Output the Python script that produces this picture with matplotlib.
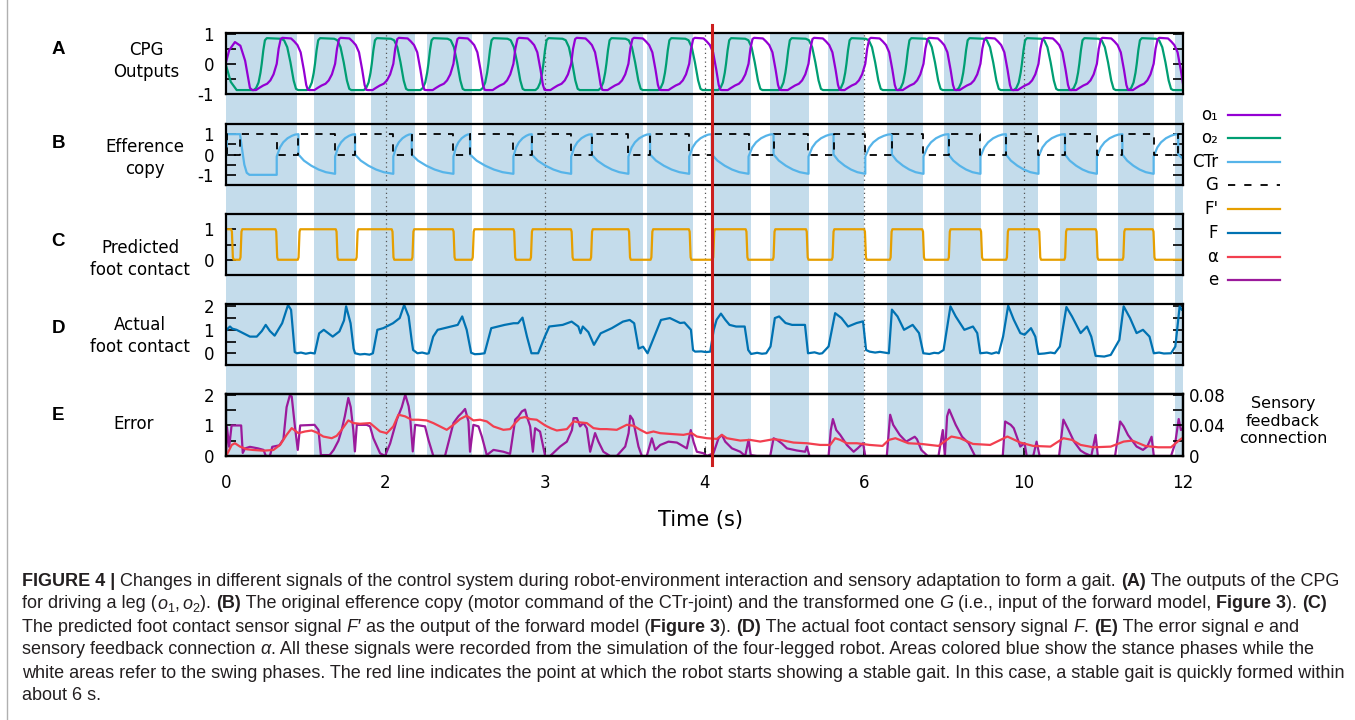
import matplotlib
matplotlib.use("Agg")
from matplotlib import pyplot as plt
from matplotlib.lines import Line2D

plt.rcParams["font.family"] = ["DejaVu Sans"]
plt.rcParams["mathtext.fontset"] = "custom"
plt.rcParams["mathtext.rm"] = "Liberation Sans"
plt.rcParams["mathtext.it"] = "Liberation Sans:italic"
plt.rcParams["mathtext.bf"] = "Liberation Sans:bold"

# --------------- datos

# eje x con posiciones iguales y etiquetas de tiempo
x_ticks = [0, 1, 2, 3, 4, 5, 6]
x_labels = ["0", "2", "3", "4", "6", "10", "12"]

# fases de apoyo (zonas azules)
apoyo_inicio = [0.000, 0.554, 0.909, 1.262, 1.614, 2.638, 3.046, 3.412, 3.777, 4.144, 4.499, 4.869, 5.231, 5.590, 5.952]
apoyo_fin = [0.443, 0.809, 1.185, 1.541, 2.617, 2.931, 3.291, 3.654, 4.001, 4.367, 4.733, 5.094, 5.461, 5.816, 6.000]

lineas_punteadas = [1, 2, 3, 4, 5]
marcha_estable = 3.046

# salidas del CPG: cruces por cero de subida de cada ciclo
o1_cruces = [0.318, 0.684, 1.049, 1.426, 1.802, 2.164, 2.523, 2.904, 3.276, 3.652, 4.008, 4.373, 4.730, 5.094, 5.460, 5.816]
o2_cruces = [0.224, 0.558, 0.914, 1.269, 1.645, 1.990, 2.385, 2.760, 3.135, 3.515, 3.890, 4.265, 4.630, 4.990, 5.350, 5.710]

# forma de un ciclo (desfase respecto al cruce, valor)
o1_forma = [(-0.130, -0.87), (-0.110, -0.80), (-0.085, -0.72), (-0.060, -0.66), (-0.040, -0.55), (-0.020, -0.35),
            (0.000, 0.00), (0.012, 0.50), (0.025, 0.82), (0.035, 0.86), (0.090, 0.84), (0.110, 0.74),
            (0.130, 0.62), (0.150, 0.38), (0.170, -0.20), (0.185, -0.70), (0.195, -0.86), (0.205, -0.87)]
o2_forma = [(-0.050, -0.87), (-0.035, -0.80), (-0.020, -0.62), (-0.008, -0.30), (0.000, 0.00), (0.010, 0.45),
            (0.020, 0.78), (0.032, 0.85), (0.120, 0.83), (0.140, 0.78), (0.160, 0.55), (0.180, 0.05),
            (0.200, -0.55), (0.215, -0.83), (0.228, -0.87)]
o1_arranque = [(0.000, 0.05), (0.020, 0.45), (0.056, 0.72), (0.090, 0.60), (0.120, 0.10), (0.150, -0.80), (0.165, -0.87)]
o2_arranque = [(0.000, -0.05), (0.030, -0.60), (0.067, -0.87), (0.140, -0.87)]

# copia eferente CTr: saltos hacia arriba y caidas
ctr_saltos = [0.318, 0.684, 1.049, 1.426, 1.802, 2.164, 2.523, 2.904, 3.276, 3.652, 4.008, 4.373, 4.730, 5.094, 5.460, 5.816]
ctr_caidas = [0.454, 0.809, 1.164, 1.530, 1.917, 2.293, 2.659, 3.046, 3.433, 3.809, 4.175, 4.530, 4.890, 5.260, 5.620, 5.970]
ctr_arranque = [(0.000, 0.0), (0.004, 0.0), (0.006, 1.0), (0.088, 1.0), (0.100, 0.3), (0.115, -0.5),
                (0.130, -0.9), (0.147, -1.0), (0.318, -1.0)]
ctr_subida = [(0.00, -0.10), (0.15, 0.35), (0.30, 0.60), (0.50, 0.80), (0.70, 0.92), (0.85, 0.98), (1.00, 1.00)]
ctr_bajada = [(0.00, 0.00), (0.15, -0.30), (0.35, -0.55), (0.55, -0.74), (0.75, -0.87), (1.00, -0.95)]

# G transformada (1 -> 0 en bajadas, 0 -> 1 en subidas)
g_bajadas = [0.004, 0.318, 0.684, 1.049, 1.426, 1.802, 2.164, 2.523, 2.904, 3.276, 3.652, 4.008, 4.373, 4.730, 5.094, 5.460, 5.816]
g_subidas = [0.088, 0.454, 0.809, 1.164, 1.530, 1.917, 2.293, 2.659, 3.046, 3.433, 3.809, 4.175, 4.530, 4.890, 5.260, 5.620, 5.970]

# contacto predicho F'
fp_bajadas = [0.040, 0.318, 0.696, 1.047, 1.430, 1.810, 2.170, 2.530, 2.910, 3.266, 3.644, 4.009, 4.373, 4.737, 5.102, 5.461, 5.818]
fp_subidas = [0.094, 0.458, 0.822, 1.172, 1.550, 1.915, 2.292, 2.670, 3.058, 3.436, 3.806, 4.170, 4.535, 4.899, 5.264, 5.629]
fp_borde = [(-0.008, 0.00), (-0.003, 0.08), (0.000, 0.50), (0.003, 0.92), (0.008, 1.00)]

# contacto real F
f_puntos = [
    (0.000, 0.95), (0.011, 1.05), (0.025, 1.14), (0.039, 1.05), (0.066, 1.00), (0.095, 0.90), (0.150, 0.71),
    (0.193, 0.71), (0.225, 0.95), (0.249, 1.21), (0.275, 0.95), (0.305, 0.75), (0.352, 1.28), (0.389, 2.06),
    (0.408, 1.85), (0.431, 0.05), (0.445, 0.00), (0.470, 0.03), (0.500, -0.02), (0.530, 0.02), (0.556, -0.01),
    (0.584, 0.85), (0.613, 1.00), (0.669, 0.71), (0.711, 0.93), (0.740, 1.40), (0.753, 2.00), (0.781, 1.28),
    (0.800, 0.20), (0.809, 0.00), (0.840, -0.05), (0.870, -0.03), (0.900, -0.06), (0.921, 0.00),
    (0.949, 1.00), (0.986, 1.07), (1.047, 1.28), (1.089, 1.50), (1.117, 2.06), (1.145, 1.57), (1.165, 0.50),
    (1.173, 0.14), (1.200, 0.00), (1.230, 0.03), (1.260, -0.02), (1.271, 0.00),
    (1.299, 0.71), (1.327, 1.00), (1.411, 1.14), (1.453, 1.21), (1.481, 1.57), (1.509, 1.00), (1.537, 0.02),
    (1.560, -0.04), (1.590, -0.03), (1.621, 0.00),
    (1.663, 1.07), (1.747, 1.21), (1.803, 1.28), (1.831, 1.28), (1.859, 1.52), (1.887, 0.71), (1.915, 0.00),
    (1.957, 0.00), (1.999, 0.71), (2.027, 1.14), (2.111, 1.21), (2.167, 1.35), (2.209, 1.14), (2.223, 0.85),
    (2.237, 1.14), (2.272, 0.90), (2.307, 0.36), (2.349, 0.85), (2.419, 1.07), (2.489, 1.35), (2.531, 1.42),
    (2.559, 1.28), (2.587, 0.20), (2.615, 0.28), (2.643, 0.00),
    (2.685, 0.71), (2.727, 1.42), (2.783, 1.50), (2.847, 1.29), (2.874, 1.31), (2.915, 1.00), (2.928, 0.14),
    (2.941, 0.07), (2.980, 0.08), (3.010, 0.05), (3.036, 0.07),
    (3.058, 1.00), (3.076, 1.43), (3.103, 1.69), (3.130, 1.43), (3.157, 1.21), (3.198, 1.14), (3.252, 1.14),
    (3.274, 0.14), (3.292, -0.03), (3.330, 0.02), (3.360, -0.02), (3.387, 0.00),
    (3.414, 0.29), (3.441, 1.50), (3.468, 1.57), (3.508, 1.29), (3.549, 1.21), (3.630, 1.21), (3.649, 0.00),
    (3.690, 0.04), (3.720, -0.02), (3.738, 0.00),
    (3.778, 0.29), (3.819, 1.71), (3.859, 1.50), (3.900, 1.14), (3.954, 1.29), (3.994, 1.36), (4.013, 0.14),
    (4.035, 0.07), (4.070, 0.03), (4.100, 0.06), (4.156, 0.00),
    (4.175, 1.86), (4.210, 1.57), (4.251, 1.00), (4.305, 1.21), (4.345, 0.86), (4.372, 0.00),
    (4.410, -0.03), (4.440, 0.02), (4.467, 0.00),
    (4.499, 0.14), (4.542, 2.00), (4.575, 1.57), (4.629, 1.00), (4.683, 1.14), (4.710, 0.86), (4.729, 0.00),
    (4.770, 0.03), (4.800, -0.02), (4.830, 0.04), (4.845, 0.00),
    (4.872, 0.71), (4.904, 2.03), (4.939, 1.43), (4.980, 0.86), (5.007, 0.79), (5.047, 1.07), (5.074, 0.71),
    (5.093, -0.03), (5.130, -0.01), (5.170, 0.03), (5.196, 0.00),
    (5.228, 0.29), (5.269, 1.97), (5.304, 1.57), (5.358, 0.86), (5.398, 1.14), (5.425, 0.71), (5.452, -0.11),
    (5.506, -0.14), (5.547, -0.07),
    (5.601, 0.57), (5.628, 2.00), (5.668, 1.50), (5.709, 0.86), (5.749, 1.00), (5.790, 0.71), (5.817, 0.00),
    (5.850, 0.03), (5.880, -0.01), (5.925, 0.00),
    (5.952, 0.29), (5.979, 2.00), (5.992, 1.86),
]

# error e
e_puntos = [
    (0.000, 0.00), (0.006, 0.95), (0.020, 0.30), (0.035, 1.00), (0.095, 1.00), (0.105, 0.10), (0.120, 0.25),
    (0.150, 0.30), (0.200, 0.25), (0.235, 0.20), (0.250, 0.00), (0.275, 0.00), (0.290, 0.30), (0.335, 0.35),
    (0.360, 0.55), (0.380, 1.60), (0.400, 1.98), (0.412, 1.95), (0.432, 0.97), (0.450, 0.20), (0.465, 1.00),
    (0.555, 1.02), (0.580, 0.85), (0.595, 0.03), (0.650, 0.03), (0.675, 0.20), (0.705, 0.50), (0.725, 0.85),
    (0.745, 1.30), (0.767, 1.90), (0.782, 1.60), (0.798, 0.85), (0.808, 0.15), (0.820, 1.02), (0.882, 1.02),
    (0.903, 0.97), (0.924, 0.58), (0.966, 0.09), (0.997, 0.00), (1.029, 0.41), (1.071, 1.19), (1.102, 1.60),
    (1.124, 2.01), (1.145, 1.63), (1.154, 1.30), (1.171, 0.15), (1.186, 1.02), (1.248, 0.97), (1.269, 0.53),
    (1.300, 0.00), (1.373, 0.00), (1.426, 1.08), (1.457, 1.30), (1.478, 1.41), (1.499, 1.54), (1.520, 1.13),
    (1.530, 0.14), (1.551, 1.02), (1.583, 0.97), (1.604, 0.64), (1.635, 0.03), (1.677, 0.20), (1.739, 0.14),
    (1.781, 0.07), (1.813, 1.19), (1.834, 1.30), (1.855, 1.46), (1.875, 1.52), (1.886, 1.30), (1.907, 0.97),
    (1.924, 0.14), (1.938, 0.91), (1.969, 0.80), (2.001, 0.00), (2.032, 0.00), (2.095, 0.31), (2.137, 0.47),
    (2.169, 0.85), (2.179, 1.24), (2.200, 1.24), (2.220, 0.97), (2.241, 1.08), (2.262, 0.91), (2.283, 0.14),
    (2.314, 0.75), (2.335, 0.47), (2.366, 0.14), (2.408, 0.00), (2.450, 0.00), (2.503, 0.31), (2.524, 0.75),
    (2.534, 1.32), (2.551, 1.19), (2.565, 0.85), (2.586, 0.31), (2.607, 0.00), (2.638, 0.00), (2.670, 0.58),
    (2.691, 0.20), (2.722, 0.36), (2.774, 0.47), (2.827, 0.44), (2.889, 0.25), (2.914, 0.85), (2.931, 0.47),
    (2.952, 0.14), (2.994, 0.09), (3.015, 0.00), (3.056, 0.09), (3.088, 0.58), (3.109, 0.69), (3.130, 0.47),
    (3.172, 0.25), (3.224, 0.14), (3.255, 0.00), (3.276, 0.53), (3.290, 0.03), (3.328, 0.00), (3.412, 0.00),
    (3.433, 0.58), (3.454, 0.53), (3.485, 0.41), (3.517, 0.25), (3.579, 0.18), (3.631, 0.14), (3.642, 0.31),
    (3.658, 0.00), (3.704, 0.00), (3.778, 0.00), (3.792, 0.85), (3.805, 1.21), (3.826, 0.85), (3.851, 0.69),
    (3.893, 0.36), (3.935, 0.14), (3.960, 0.25), (3.994, 0.42), (4.008, 0.00), (4.143, 0.00), (4.164, 1.35),
    (4.183, 1.02), (4.224, 0.69), (4.264, 0.47), (4.318, 0.63), (4.332, 0.55), (4.359, 0.20), (4.399, 0.00),
    (4.467, 0.00), (4.494, 0.85), (4.507, 0.00), (4.521, 1.30), (4.534, 1.52), (4.575, 1.02), (4.615, 0.63),
    (4.656, 0.42), (4.696, 0.00), (4.870, 0.00), (4.885, 1.13), (4.920, 1.02), (4.939, 0.91), (4.980, 0.31),
    (5.007, 0.42), (5.020, 0.00), (5.061, 0.00), (5.082, 0.47), (5.101, 0.00), (5.223, 0.00), (5.250, 1.19),
    (5.277, 0.91), (5.317, 0.47), (5.358, 0.18), (5.385, 0.09), (5.425, 0.00), (5.452, 0.69), (5.466, 0.00),
    (5.574, 0.00), (5.606, 1.13), (5.628, 0.97), (5.655, 0.69), (5.709, 0.31), (5.749, 0.20), (5.776, 0.31),
    (5.803, 0.63), (5.817, 0.00), (5.925, 0.00), (5.951, 0.42), (5.973, 1.21), (5.987, 0.85), (6.000, 0.90),
]

# conexion de retroalimentacion sensorial alfa
alfa_puntos = [
    (0.000, 0.0000), (0.015, 0.0057), (0.036, 0.0145), (0.056, 0.0167), (0.088, 0.0123), (0.130, 0.0088),
    (0.171, 0.0079), (0.234, 0.0070), (0.297, 0.0079), (0.339, 0.0145), (0.380, 0.0277), (0.412, 0.0365),
    (0.454, 0.0299), (0.495, 0.0321), (0.537, 0.0334), (0.569, 0.0308), (0.610, 0.0255), (0.663, 0.0233),
    (0.694, 0.0264), (0.725, 0.0343), (0.767, 0.0466), (0.799, 0.0431), (0.840, 0.0422), (0.903, 0.0431),
    (0.966, 0.0321), (1.008, 0.0299), (1.049, 0.0387), (1.081, 0.0541), (1.123, 0.0519), (1.164, 0.0475),
    (1.206, 0.0475), (1.258, 0.0466), (1.300, 0.0431), (1.384, 0.0343), (1.426, 0.0409), (1.468, 0.0484),
    (1.509, 0.0528), (1.551, 0.0466), (1.593, 0.0475), (1.635, 0.0453), (1.677, 0.0387), (1.739, 0.0343),
    (1.781, 0.0352), (1.813, 0.0431), (1.844, 0.0497), (1.875, 0.0510), (1.907, 0.0484), (1.948, 0.0475),
    (2.001, 0.0400), (2.040, 0.0360), (2.074, 0.0334), (2.137, 0.0352), (2.179, 0.0453), (2.220, 0.0440),
    (2.262, 0.0431), (2.304, 0.0365), (2.346, 0.0352), (2.387, 0.0352), (2.450, 0.0343), (2.513, 0.0409),
    (2.555, 0.0396), (2.597, 0.0343), (2.638, 0.0299), (2.680, 0.0321), (2.722, 0.0299), (2.806, 0.0286),
    (2.868, 0.0277), (2.920, 0.0299), (2.952, 0.0255), (3.015, 0.0233), (3.077, 0.0224), (3.109, 0.0277),
    (3.140, 0.0233), (3.224, 0.0202), (3.286, 0.0211), (3.349, 0.0189), (3.433, 0.0220), (3.475, 0.0211),
    (3.558, 0.0176), (3.642, 0.0167), (3.725, 0.0145), (3.788, 0.0145), (3.819, 0.0233), (3.851, 0.0211),
    (3.893, 0.0167), (3.956, 0.0167), (4.035, 0.0145), (4.116, 0.0132), (4.156, 0.0211), (4.197, 0.0233),
    (4.278, 0.0167), (4.359, 0.0158), (4.467, 0.0132), (4.548, 0.0255), (4.602, 0.0233), (4.683, 0.0158),
    (4.791, 0.0145), (4.899, 0.0255), (4.980, 0.0176), (5.061, 0.0132), (5.169, 0.0123), (5.250, 0.0233),
    (5.304, 0.0211), (5.358, 0.0145), (5.439, 0.0114), (5.547, 0.0123), (5.628, 0.0189), (5.682, 0.0202),
    (5.763, 0.0132), (5.844, 0.0114), (5.925, 0.0114), (5.979, 0.0211), (6.000, 0.0240),
]

# colores de cada senal
c_o1 = "#9400d3"
c_o2 = "#009e73"
c_ctr = "#56b4e9"
c_fp = "#e69f00"
c_f = "#0072b2"
c_alfa = "#f23f4f"
c_e = "#9b1a9b"
c_banda = "#c4dceb"

# --------------- construccion de las curvas

def ciclos(arranque, cruces, forma, fin):
    t = [p[0] for p in arranque]
    v = [p[1] for p in arranque]
    for c in cruces:
        t += [c + d for d, _ in forma]
        v += [val for _, val in forma]
    t.append(fin[0])
    v.append(fin[1])
    return t, v

o1_t, o1_v = ciclos(o1_arranque, o1_cruces, o1_forma, (6.05, -0.87))
o2_t, o2_v = ciclos(o2_arranque, o2_cruces, o2_forma, (6.05, -0.87))

ctr_t = [p[0] for p in ctr_arranque]
ctr_v = [p[1] for p in ctr_arranque]
for i, (s, c) in enumerate(zip(ctr_saltos, ctr_caidas)):
    for f, val in ctr_subida:
        ctr_t.append(s + f * (c - s))
        ctr_v.append(val)
    sig = ctr_saltos[i + 1] if i + 1 < len(ctr_saltos) else 6.25
    for f, val in ctr_bajada:
        ctr_t.append(c + f * (sig - c))
        ctr_v.append(val)

g_t, g_v = [0.0], [1]
for b, s in zip(g_bajadas, g_subidas):
    g_t += [b, b, s, s]
    g_v += [1, 0, 0, 1]
g_t.append(6.0)
g_v.append(1)

# F' con bordes suavizados
eventos = sorted([(t, 0) for t in fp_bajadas] + [(t, 1) for t in fp_subidas])
fp_t, fp_v = [0.0], [1.0]
for t, sube in eventos:
    for d, val in fp_borde:
        fp_t.append(t + d)
        fp_v.append(val if sube else 1 - val)
fp_t.append(6.0)
fp_v.append(fp_v[-1])

f_t, f_v = zip(*f_puntos)
e_t, e_v = zip(*e_puntos)
alfa_t, alfa_v = zip(*alfa_puntos)

# --------------- figura

W, H = 1355, 720
fig = plt.figure(figsize=(W / 100, H / 100), dpi=100)


def ejes(arriba, abajo):
    izq, der = 226, 1183
    return fig.add_axes([izq / W, 1 - abajo / H, (der - izq) / W, (abajo - arriba) / H])


# fondo con fases de apoyo y lineas punteadas
fondo = ejes(33, 456)
fondo.set_xlim(0, 6)
fondo.set_ylim(0, 1)
fondo.set_axis_off()
for a, b in zip(apoyo_inicio, apoyo_fin):
    fondo.axvspan(a, b, color=c_banda, lw=0)
for x in lineas_punteadas:
    fondo.axvline(x, color="#555555", lw=0.9, ls=(0, (1, 2.5)))


def estilo(ax, ylim, yt, ylab, derecha=True):
    ax.set_xlim(0, 6)
    ax.set_ylim(*ylim)
    ax.set_yticks(yt)
    ax.set_yticklabels(ylab)
    ax.set_xticks([])
    ax.patch.set_alpha(0)
    ax.tick_params(axis="y", direction="in", length=7, width=1.2, left=True, right=derecha,
                   labelsize=12, pad=8.5)
    for s in ax.spines.values():
        s.set_linewidth(1.6)


ax_a = ejes(33, 94)
ax_a.plot(o2_t, o2_v, color=c_o2, lw=1.6)
ax_a.plot(o1_t, o1_v, color=c_o1, lw=1.6)
estilo(ax_a, (-1, 1.02), [-1, -0.5, 0, 0.5, 1], ["-1", "", "0", "", "1"])

ax_b = ejes(124, 185)
ax_b.plot(ctr_t, ctr_v, color=c_ctr, lw=1.6)
ax_b.plot(g_t, g_v, color="black", lw=1.3, dashes=(4, 4))
estilo(ax_b, (-1.5, 1.5), [-1, -0.5, 0, 0.5, 1], ["-1", "", "0", "", "1"])

ax_c = ejes(214, 275)
ax_c.plot(fp_t, fp_v, color=c_fp, lw=1.6)
estilo(ax_c, (-0.5, 1.5), [0, 0.5, 1], ["0", "", "1"])

ax_d = ejes(304, 365)
ax_d.plot(f_t, f_v, color=c_f, lw=1.6)
estilo(ax_d, (-0.5, 2.1), [0, 0.5, 1, 1.5, 2], ["0", "", "1", "", "2"])

ax_e = ejes(394, 456)
ax_e.plot(e_t, e_v, color=c_e, lw=1.6)
estilo(ax_e, (0, 2.03), [0, 0.5, 1, 1.5, 2], ["0", "", "1", "", "2"], derecha=False)
ax_e.set_xticks(x_ticks)
ax_e.set_xticklabels(x_labels)
ax_e.tick_params(axis="x", direction="in", length=6, width=1.2, bottom=True, top=False,
                 labelsize=12, pad=13)

ax_e2 = ax_e.twinx()
ax_e2.plot(alfa_t, alfa_v, color=c_alfa, lw=1.6)
ax_e2.set_ylim(0, 0.0812)
ax_e2.set_xlim(0, 6)
ax_e2.set_yticks([0, 0.02, 0.04, 0.06, 0.08])
ax_e2.set_yticklabels(["0", "", "0.04", "", "0.08"])
ax_e2.tick_params(axis="y", direction="in", length=7, width=1.2, labelsize=12, pad=4)
for s in ax_e2.spines.values():
    s.set_linewidth(1.6)

# linea roja: inicio de marcha estable
arriba = ejes(33, 456)
arriba.set_xlim(0, 6)
arriba.set_ylim(0, 1)
arriba.set_axis_off()
arriba.plot([marcha_estable, marcha_estable], [-0.021, 1.019], color="#cc1f1f", lw=2.2, clip_on=False)

# --------------- textos

letras = [("A", 50), ("B", 143), ("C", 242), ("D", 329), ("E", 416)]
for letra, y in letras:
    fig.text(58 / W, 1 - y / H, letra, fontsize=13.5, fontweight="bold", family="Liberation Sans",
             ha="center", va="center")

nombres = [("CPG\nOutputs", 146, 61), ("Efference\ncopy", 145, 158), ("Predicted\nfoot contact", 140, 259),
           ("Actual\nfoot contact", 140, 336), ("Error", 134, 424)]
for txt, x, y in nombres:
    fig.text(x / W, 1 - y / H, txt, fontsize=12, ha="center", va="center", linespacing=1.25)

fig.text(700 / W, 1 - 520 / H, "Time (s)", fontsize=15, ha="center", va="center")
fig.text(1283 / W, 1 - 421 / H, "Sensory\nfeedback\nconnection", fontsize=11.5, ha="center",
         va="center", linespacing=1.2)

# leyenda manual a la derecha
leyenda = [("o₁", c_o1, "-", 115), ("o₂", c_o2, "-", 138), ("CTr", c_ctr, "-", 162), ("G", "black", "--", 185),
           ("F'", c_fp, "-", 209), ("F", c_f, "-", 233), ("α", c_alfa, "-", 257), ("e", c_e, "-", 280)]
for nombre, color, ls, y in leyenda:
    fig.text(1218 / W, 1 - y / H, nombre, fontsize=12, ha="right", va="center")
    linea = Line2D([1228 / W, 1280 / W], [1 - y / H, 1 - y / H], transform=fig.transFigure,
                   color=color, lw=1.6 if ls == "-" else 1.3, ls=ls)
    if ls == "--":
        linea.set_dashes((4, 5))
    fig.add_artist(linea)

# marco gris a la izquierda
fig.add_artist(Line2D([7 / W, 7 / W], [0, 1], transform=fig.transFigure, color="#b0b0b0", lw=1))

# --------------- pie de figura
N, B, I = ("normal", "normal"), ("bold", "normal"), ("normal", "italic")
pie = [
    [("FIGURE 4 | ", B), ("Changes in different signals of the control system during robot-environment "
                         "interaction and sensory adaptation to form a gait. ", N), ("(A)", B),
     (" The outputs of the CPG", N)],
    [("for driving a leg (", N), ("$o_1, o_2$", N), ("). ", N), ("(B)", B),
     (" The original efference copy (motor command of the CTr-joint) and the transformed one ", N),
     ("G", I), (" (i.e., input of the forward model, ", N), ("Figure 3", B), ("). ", N), ("(C)", B)],
    [("The predicted foot contact sensor signal ", N), ("F′", I), (" as the output of the forward model (", N),
     ("Figure 3", B), ("). ", N), ("(D)", B), (" The actual foot contact sensory signal ", N), ("F", I),
     (". ", N), ("(E)", B), (" The error signal ", N), ("e", I), (" and", N)],
    [("sensory feedback connection ", N), ("α", I),
     (". All these signals were recorded from the simulation of the four-legged robot. Areas colored blue "
      "show the stance phases while the", N)],
    [("white areas refer to the swing phases. The red line indicates the point at which the robot starts "
      "showing a stable gait. In this case, a stable gait is quickly formed within", N)],
    [("about 6 s.", N)],
]
pie_y = [585.5, 608.5, 631.5, 654.5, 677.5, 700.5]
familia = ["Liberation Sans", "DejaVu Sans"]

rend = fig.canvas.get_renderer()


def ancho(txt, estilo_txt, tam):
    peso, forma = estilo_txt
    a = fig.text(0, 0, "|" + txt + "|", fontsize=tam, fontweight=peso, fontstyle=forma, family=familia)
    b = fig.text(0, 0, "||", fontsize=tam, fontweight=peso, fontstyle=forma, family=familia)
    w = a.get_window_extent(rend).width - b.get_window_extent(rend).width
    a.remove()
    b.remove()
    return w


tam = 12
ancho_l1 = sum(ancho(t, p, tam) for t, p in pie[0])
tam = tam * (1338 - 22) / ancho_l1

for partes, y in zip(pie, pie_y):
    x = 22
    for txt, estilo_txt in partes:
        peso, forma = estilo_txt
        fig.text(x / W, 1 - y / H, txt, fontsize=tam, fontweight=peso, fontstyle=forma, family=familia,
                 va="baseline", ha="left", color="#231f20")
        x += ancho(txt, estilo_txt, tam)

fig.savefig("out.png", dpi=100)
